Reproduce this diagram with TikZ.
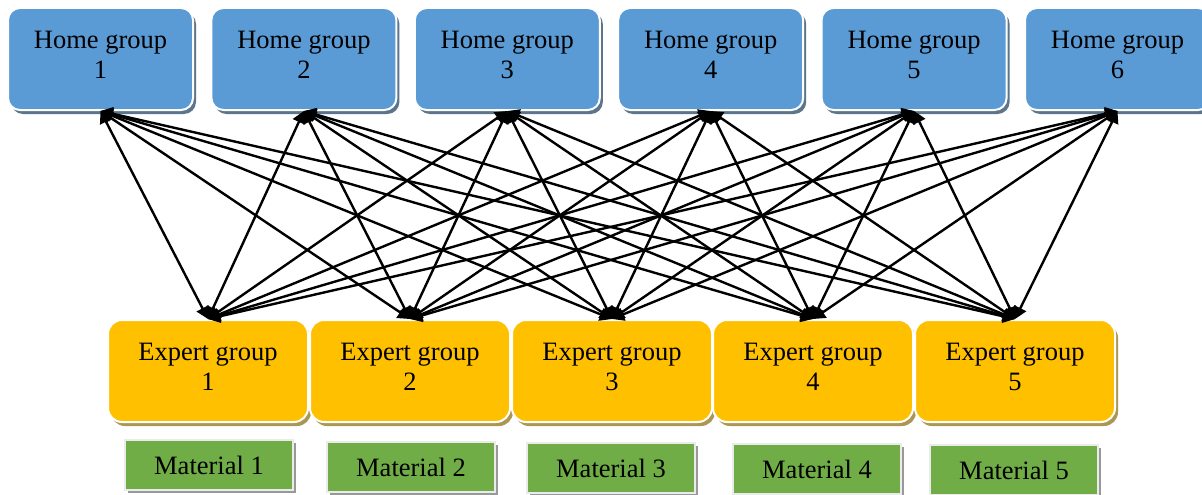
\documentclass[tikz,border=0pt]{standalone}
\usepackage{fontspec}
\setmainfont{Liberation Serif}
\usetikzlibrary{arrows.meta, shadows}
\definecolor{homeblue}{HTML}{5B9BD5}
\definecolor{expertgold}{HTML}{FFC000}
\definecolor{materialgreen}{HTML}{70AD47}
\tikzset{
    homeblock/.style={
        rectangle,
        minimum width=185pt,
        minimum height=102pt,
        text centered,
        align=center,
        text depth=8pt,
        draw=white,
        line width=2pt,
        fill=homeblue,
        rounded corners=12pt,
        inner sep=0pt,
        font=\fontsize{26.5}{30}\selectfont,
        drop shadow={shadow xshift=3pt, shadow yshift=-4pt, fill=black!30!homeblue!55!gray, opacity=1}
    },
    expertblock/.style={
        rectangle,
        minimum width=200pt,
        minimum height=102pt,
        text centered,
        align=center,
        text depth=8pt,
        draw=white,
        line width=2pt,
        fill=expertgold,
        rounded corners=14pt,
        inner sep=0pt,
        font=\fontsize{26.5}{30}\selectfont,
        drop shadow={shadow xshift=3pt, shadow yshift=-4pt, fill=expertgold!35!gray, opacity=1}
    },
    materialblock/.style={
        rectangle,
        minimum width=168pt,
        minimum height=50pt,
        text centered,
        draw=white!92!black,
        line width=2pt,
        fill=materialgreen,
        inner sep=0pt,
        font=\fontsize{26.5}{30}\selectfont,
        drop shadow={shadow xshift=3pt, shadow yshift=-3pt, fill=gray!80, opacity=1}
    },
    arrow/.style={
        line width=2.4pt,
        {Triangle[length=12pt,width=13pt]}-{Triangle[length=12pt,width=13pt]}
    }
}

\begin{document}
\begin{tikzpicture}[x=1pt, y=1pt]
\useasboundingbox (0,0) rectangle (1202,-495);

% Home groups
\node (home1) [homeblock] at (100.5,-59) {Home group\\1};
\node (home2) [homeblock] at (303.9,-59) {Home group\\2};
\node (home3) [homeblock] at (507.3,-59) {Home group\\3};
\node (home4) [homeblock] at (710.7,-59) {Home group\\4};
\node (home5) [homeblock] at (914.1,-59) {Home group\\5};
\node (home6) [homeblock] at (1117.5,-59) {Home group\\6};

% Expert groups
\node (expert1) [expertblock] at (208,-371) {Expert group\\1};
\node (expert2) [expertblock] at (410,-371) {Expert group\\2};
\node (expert3) [expertblock] at (612,-371) {Expert group\\3};
\node (expert4) [expertblock] at (813,-371) {Expert group\\4};
\node (expert5) [expertblock] at (1015,-371) {Expert group\\5};

% Materials
\node (material1) [materialblock] at (209,-465) {Material 1};
\node (material2) [materialblock] at (411,-467) {Material 2};
\node (material3) [materialblock] at (611,-468) {Material 3};
\node (material4) [materialblock] at (817,-469) {Material 4};
\node (material5) [materialblock] at (1014,-470) {Material 5};

% Arrows
\foreach \h in {1,...,6}
    \foreach \e in {1,...,5}
        \draw[arrow] (home\h.south) -- (expert\e.north);

\end{tikzpicture}
\end{document}
